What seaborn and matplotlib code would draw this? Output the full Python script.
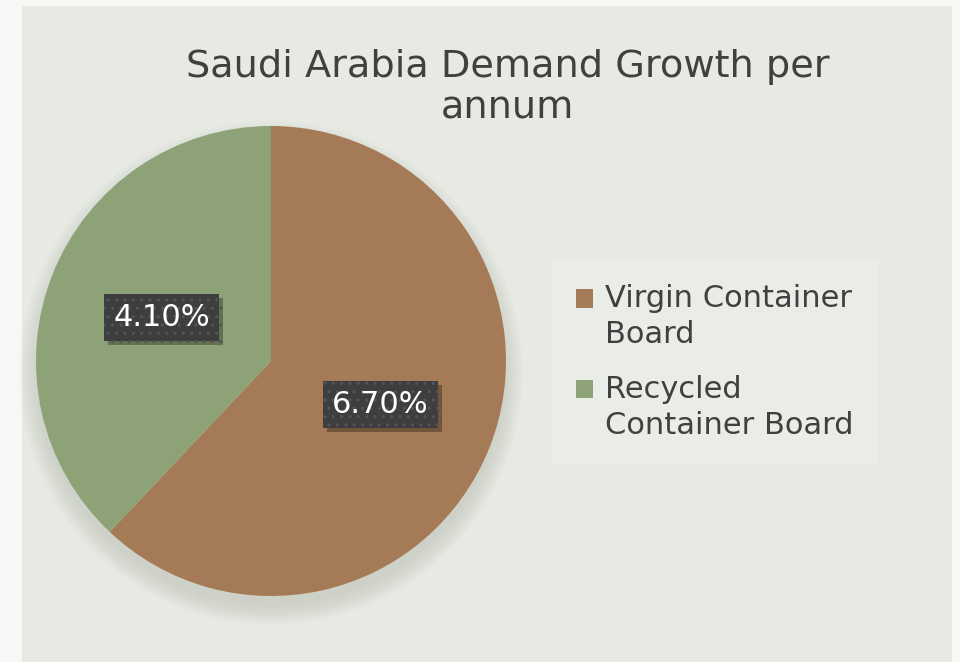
import matplotlib
matplotlib.use("Agg")
import matplotlib.pyplot as plt
import matplotlib.patches as mpatches
import matplotlib.patheffects as pe
from matplotlib.legend_handler import HandlerBase
import seaborn as sns

# data
categories = ["Virgin Container\nBoard", "Recycled\nContainer Board"]
growth = [6.70, 4.10]
colors = ["#A57B57", "#8DA377"]
title = "Saudi Arabia Demand Growth per\nannum"

sns.set_theme(style="white")
plt.rcParams["font.family"] = ["DejaVu Sans"]


class TopSquareHandler(HandlerBase):
    """Legend square lined up with the first line of a two-line label."""
    def create_artists(self, legend, orig_handle, xdescent, ydescent, width, height,
                       fontsize, trans):
        sq = mpatches.Rectangle((-xdescent, -ydescent + 0.62 * fontsize), width, height,
                                facecolor=orig_handle.get_facecolor(), edgecolor="none",
                                transform=trans)
        return [sq]


W, H = 960, 662
fig = plt.figure(figsize=(W / 100, H / 100), dpi=100)
fig.patch.set_facecolor("#F7F8F6")

# chart panel
panel = mpatches.Rectangle((22 / W, 0), 930 / W, 656 / H, transform=fig.transFigure,
                           facecolor="#E7EAE2", edgecolor="none", zorder=-5)
fig.patches.append(panel)

# pie axes: center (271, 361) px, radius 235 px
cx, cy, r = 271, 361, 235
ax = fig.add_axes([(cx - r) / W, 1 - (cy + r) / H, 2 * r / W, 2 * r / H], zorder=2)
ax.axis("off")

total = sum(growth)
wedges, texts, autotexts = ax.pie(
    growth, colors=colors, startangle=90, counterclock=False, radius=1.0,
    autopct=lambda p: f"{p * total / 100:.2f}%", pctdistance=0.5,
    wedgeprops=dict(edgecolor="none", linewidth=0), frame=False,
)

# soft shadow around the pie
for i in range(10):
    ax.add_patch(mpatches.Circle((0.0, -0.05), 0.99 + 0.009 * i, facecolor="#B0B4AB",
                                 edgecolor="none", alpha=0.05, zorder=0, clip_on=False))
ax.set_xlim(-1, 1)
ax.set_ylim(-1, 1)
ax.set_aspect("equal")

for t in autotexts:
    t.set_color("white")
    t.set_fontsize(22)
    t.set_bbox(dict(boxstyle="square,pad=0.3", facecolor="#3E3E3E", edgecolor="#555555",
                    hatch="..", linewidth=0))
    t.get_bbox_patch().set_path_effects([
        pe.SimplePatchShadow(offset=(3, -3), shadow_rgbFace="#000000", alpha=0.3),
        pe.Normal(),
    ])

fig.text(0.529, 0.867, title, ha="center", va="center", fontsize=27.5, color="#404040",
         linespacing=1.2, zorder=3)

leg = fig.legend(wedges, categories, loc="center left", bbox_to_anchor=(561 / W, 1 - 362 / H),
                 frameon=True, fontsize=22, handlelength=0.55, handleheight=0.55,
                 handletextpad=0.4, labelspacing=0.85, borderpad=0.5, borderaxespad=0,
                 handler_map={mpatches.Wedge: TopSquareHandler()})
leg.set_zorder(3)
frame = leg.get_frame()
frame.set_facecolor("#ECEEE9")
frame.set_edgecolor("none")
frame.set_boxstyle("square")
for txt in leg.get_texts():
    txt.set_color("#404040")
    txt.set_linespacing(1.3)

fig.savefig("out.png", dpi=100)
